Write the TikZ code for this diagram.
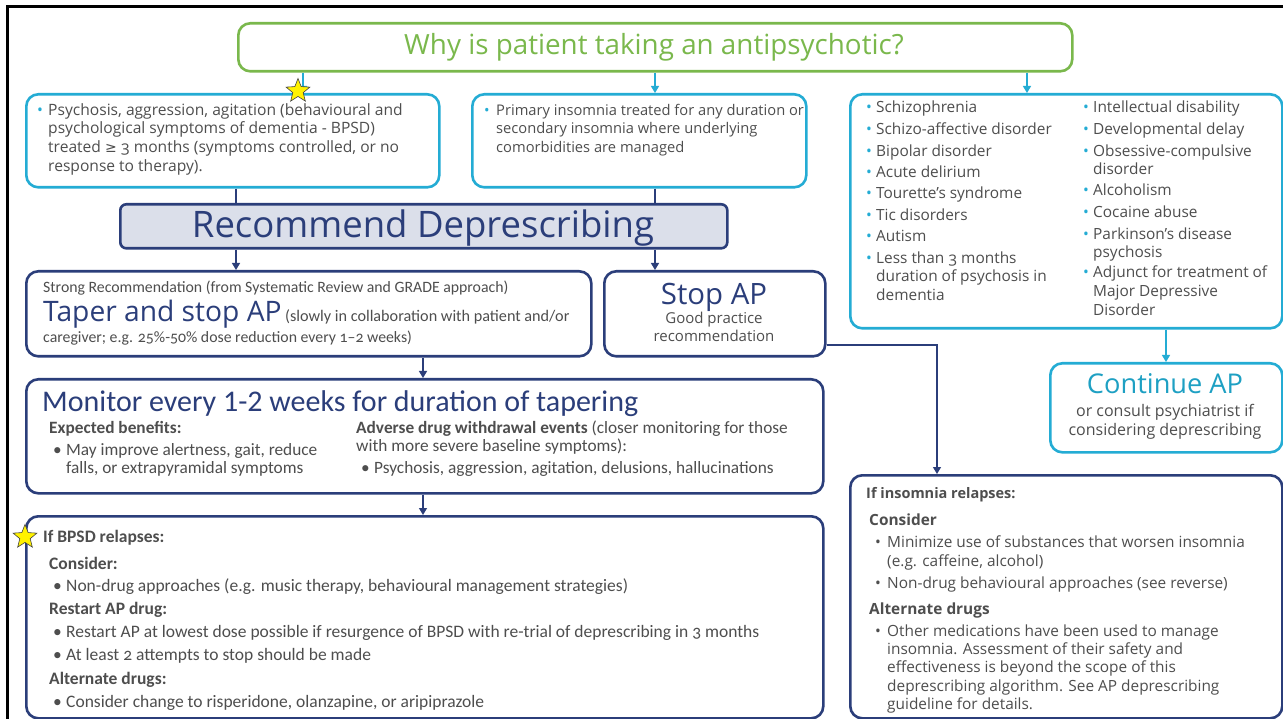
\documentclass[tikz,border=0pt]{standalone}
\usepackage{fontspec}
\setmainfont{Open Sans}
\newfontfamily\condf{Carlito}
\newfontfamily\dvf{DejaVu Sans}
\usetikzlibrary{arrows.meta,shapes.geometric}

\definecolor{grn}{RGB}{122,184,76}
\definecolor{cyb}{RGB}{36,172,212}
\definecolor{ctx}{RGB}{30,160,195}
\definecolor{nav}{RGB}{43,62,122}
\definecolor{recfill}{RGB}{219,223,234}
\definecolor{txt}{RGB}{78,78,78}

\newcommand\fsz[1]{\fontsize{#1}{#1}\selectfont}
\newcommand\osn[1]{{\addfontfeatures{Numbers=OldStyle}#1}}
\newcounter{lnc}
\newcommand\lineat[3]{\stepcounter{lnc}\node[tx] (ln\arabic{lnc}) at (#1,#2) {#3};}
\newcommand\dotat[3]{\stepcounter{lnc}\node[tx,text=#3] (ln\arabic{lnc}) at (#1,#2) {\textbullet};}

\begin{document}
\begin{tikzpicture}[x=1pt,y=-1pt,
  box/.style={rounded corners=12pt, line width=2.6pt, inner sep=0pt, anchor=north west},
  cbox/.style={box, draw=cyb},
  nbox/.style={box, draw=nav},
  tx/.style={anchor=base west, inner sep=0pt, text=txt},
  ctr/.style={anchor=base, inner sep=0pt},
  arrc/.style={draw=cyb, line width=1.3pt, -{Triangle[width=8pt,length=7pt]}},
  arrn/.style={draw=nav, line width=1.3pt, -{Triangle[width=8pt,length=7pt]}},
  linen/.style={draw=nav, line width=1.3pt},
  mark star/.style={star, star points=5, star point ratio=2.3, fill=yellow, draw=black!75, line width=0.6pt, minimum size=25pt, inner sep=0pt}
]
\useasboundingbox (0,0) rectangle (1283,719);
\fill[white] (0,0) rectangle (1283,719);

% page frame
\draw[line width=3pt] (7,719) -- (7,7) -- (1283,7);

% boxes
\node[box, draw=grn, minimum width=834pt, minimum height=48pt] (title) at (237,22) {};
\node[cbox, minimum width=413pt, minimum height=93pt] (b1) at (25,93) {};
\node[cbox, minimum width=334pt, minimum height=93pt] (b2) at (471,93) {};
\node[cbox, minimum width=432pt, minimum height=234pt] (b3) at (849,93) {};
\node[nbox, fill=recfill, rounded corners=6pt, minimum width=607pt, minimum height=44pt] (rec) at (119,203) {};
\node[nbox, minimum width=565pt, minimum height=85pt] (taper) at (25,270) {};
\node[nbox, minimum width=221pt, minimum height=85pt] (stop) at (603,270) {};
\node[nbox, minimum width=797pt, minimum height=114pt] (mon) at (25,378) {};
\node[nbox, minimum width=797pt, minimum height=202pt] (bpsd) at (25,515) {};
\node[cbox, minimum width=232pt, minimum height=89pt] (cont) at (1049,362) {};
\node[nbox, minimum width=432pt, minimum height=243pt] (ins) at (849,474) {};

% connector columns
\coordinate (xa) at (303,0);
\coordinate (xb) at (655,0);
\coordinate (xc) at (1027,0);
\coordinate (xd) at (236,0);
\coordinate (xm) at (423,0);
\coordinate (xi) at (937,0);
\coordinate (xk) at (1166,0);
\coordinate (ys) at (0,345);

\draw[arrc] (title.south -| xa) -- (b1.north -| xa);
\draw[arrc] (title.south -| xb) -- (b2.north -| xb);
\draw[arrc] (title.south -| xc) -- (b3.north -| xc);
\draw[linen] (b1.south -| xd) -- (rec.north -| xd);
\draw[linen] (b2.south -| xb) -- (rec.north -| xb);
\draw[arrn] (rec.south -| xd) -- (taper.north -| xd);
\draw[arrn] (rec.south -| xb) -- (stop.north -| xb);
\draw[arrn] (taper.south -| xm) -- (mon.north -| xm);
\draw[arrn] (mon.south -| xm) -- (bpsd.north -| xm);
\draw[arrn] (stop.east |- ys) -- (xi |- ys) -- (ins.north -| xi);
\draw[arrc] (b3.south -| xk) -- (cont.north -| xk);

% title
\node[ctr, text=grn, font=\fsz{27.8}] (ttl) at (654,55) {Why is patient taking an antipsychotic?};

% upper cyan boxes
\begin{scope}[font=\fsz{15.6}]
\dotat{37}{116}{cyb}
\lineat{48}{116}{Psychosis, aggression, agitation (behavioural and}
\lineat{48}{134}{psychological symptoms of dementia - BPSD)}
\lineat{48}{153}{treated {\dvf\fsz{14}≥} \osn{3} months (symptoms controlled, or no}
\lineat{48}{172}{response to therapy).}
\end{scope}

\begin{scope}[font=\fsz{14.7}]
\dotat{484}{116}{cyb}
\lineat{496}{116}{Primary insomnia treated for any duration or}
\lineat{496}{134}{secondary insomnia where underlying}
\lineat{496}{153}{comorbidities are managed}
\end{scope}

\begin{scope}[font=\fsz{15.4}]
\dotat{866}{113}{cyb}\lineat{876}{113}{Schizophrenia}
\dotat{866}{135}{cyb}\lineat{876}{135}{Schizo-affective disorder}
\dotat{866}{157}{cyb}\lineat{876}{157}{Bipolar disorder}
\dotat{866}{178}{cyb}\lineat{876}{178}{Acute delirium}
\dotat{866}{199}{cyb}\lineat{876}{199}{Tourette’s syndrome}
\dotat{866}{221}{cyb}\lineat{876}{221}{Tic disorders}
\dotat{866}{242}{cyb}\lineat{876}{242}{Autism}
\dotat{866}{264}{cyb}\lineat{876}{264}{Less than \osn{3} months}
\lineat{876}{282}{duration of psychosis in}
\lineat{876}{301}{dementia}

\dotat{1083}{113}{cyb}\lineat{1093}{113}{Intellectual disability}
\dotat{1083}{135}{cyb}\lineat{1093}{135}{Developmental delay}
\dotat{1083}{157}{cyb}\lineat{1093}{157}{Obsessive-compulsive}
\lineat{1093}{175}{disorder}
\dotat{1083}{196}{cyb}\lineat{1093}{196}{Alcoholism}
\dotat{1083}{218}{cyb}\lineat{1093}{218}{Cocaine abuse}
\dotat{1083}{240}{cyb}\lineat{1093}{240}{Parkinson’s disease}
\lineat{1093}{258}{psychosis}
\dotat{1083}{278}{cyb}\lineat{1093}{278}{Adjunct for treatment of}
\lineat{1093}{297}{Major Depressive}
\lineat{1093}{316}{Disorder}
\end{scope}

% recommend
\node[ctr, text=nav, font=\fsz{36.5}] (rect) at (423,238) {Recommend Deprescribing};

% taper
\begin{scope}[font=\condf\fsz{15.8}]
\lineat{43}{293}{Strong Recommendation (from Systematic Review and GRADE approach)}
\lineat{43}{322}{{\rmfamily\fsz{28.2}\color{nav}Taper and stop AP} {\fsz{16.2}(slowly in collaboration with patient and/or}}
\lineat{43}{343}{caregiver; e.g. \osn{25}\%-\osn{50}\% dose reduction every \osn{1}–\osn{2} weeks)}
\end{scope}

% stop AP
\node[ctr, text=nav, font=\fsz{29.4}] (stopt) at (714,305) {Stop AP};
\node[ctr, text=txt, font=\fsz{15}] (stop1) at (714,324) {Good practice};
\node[ctr, text=txt, font=\fsz{15}] (stop2) at (714,342) {recommendation};

% monitor
\node[tx, text=nav, font=\condf\fsz{30}] (mont) at (42,411) {Monitor every 1-2 weeks for duration of tapering};
\begin{scope}[font=\condf\fsz{17.3}]
\lineat{49}{433}{\bfseries Expected benefits:}
\dotat{53}{455}{txt}\lineat{66}{455}{May improve alertness, gait, reduce}
\lineat{66}{473}{falls, or extrapyramidal symptoms}
\lineat{356}{433}{\textbf{Adverse drug withdrawal events} (closer monitoring for those}
\lineat{356}{451}{with more severe baseline symptoms):}
\dotat{361}{473}{txt}\lineat{374}{473}{Psychosis, aggression, agitation, delusions, hallucinations}
\end{scope}

% BPSD relapse
\begin{scope}[font=\condf\fsz{17.5}]
\lineat{43}{542}{\bfseries If BPSD relapses:}
\lineat{49}{569}{\bfseries Consider:}
\dotat{53}{591}{txt}\lineat{66}{591}{Non-drug approaches (e.g. music therapy, behavioural management strategies)}
\lineat{49}{614}{\bfseries Restart AP drug:}
\dotat{53}{637}{txt}\lineat{66}{637}{Restart AP at lowest dose possible if resurgence of BPSD with re-trial of deprescribing in \osn{3} months}
\dotat{53}{660}{txt}\lineat{66}{660}{At least \osn{2} attempts to stop should be made}
\lineat{49}{684}{\bfseries Alternate drugs:}
\dotat{53}{707}{txt}\lineat{66}{707}{Consider change to risperidone, olanzapine, or aripiprazole}
\end{scope}

% continue AP
\node[ctr, text=ctx, font=\fsz{27.2}] (contt) at (1165,394) {Continue AP};
\node[ctr, text=txt, font=\fsz{16}] (cont1) at (1165,416) {or consult psychiatrist if};
\node[ctr, text=txt, font=\fsz{16}] (cont2) at (1165,435) {considering deprescribing};

% insomnia relapse
\begin{scope}[font=\fsz{15.4}]
\lineat{866}{498}{\fsz{14.5}\bfseries If insomnia relapses:}
\lineat{869}{525}{\bfseries Consider}
\dotat{875}{547}{txt}\lineat{887}{547}{Minimize use of substances that worsen insomnia}
\lineat{887}{566}{(e.g. caffeine, alcohol)}
\dotat{875}{588}{txt}\lineat{887}{588}{Non-drug behavioural approaches (see reverse)}
\lineat{869}{614}{\bfseries Alternate drugs}
\dotat{875}{636}{txt}\lineat{887}{636}{Other medications have been used to manage}
\lineat{887}{654}{insomnia. Assessment of their safety and}
\lineat{887}{672}{effectiveness is beyond the scope of this}
\lineat{887}{691}{deprescribing algorithm. See AP deprescribing}
\lineat{887}{709}{guideline for details.}
\end{scope}

% highlight stars
\node[mark star] (st1) at (298,91) {};
\node[mark star] (st2) at (25,537) {};
\end{tikzpicture}
\end{document}
